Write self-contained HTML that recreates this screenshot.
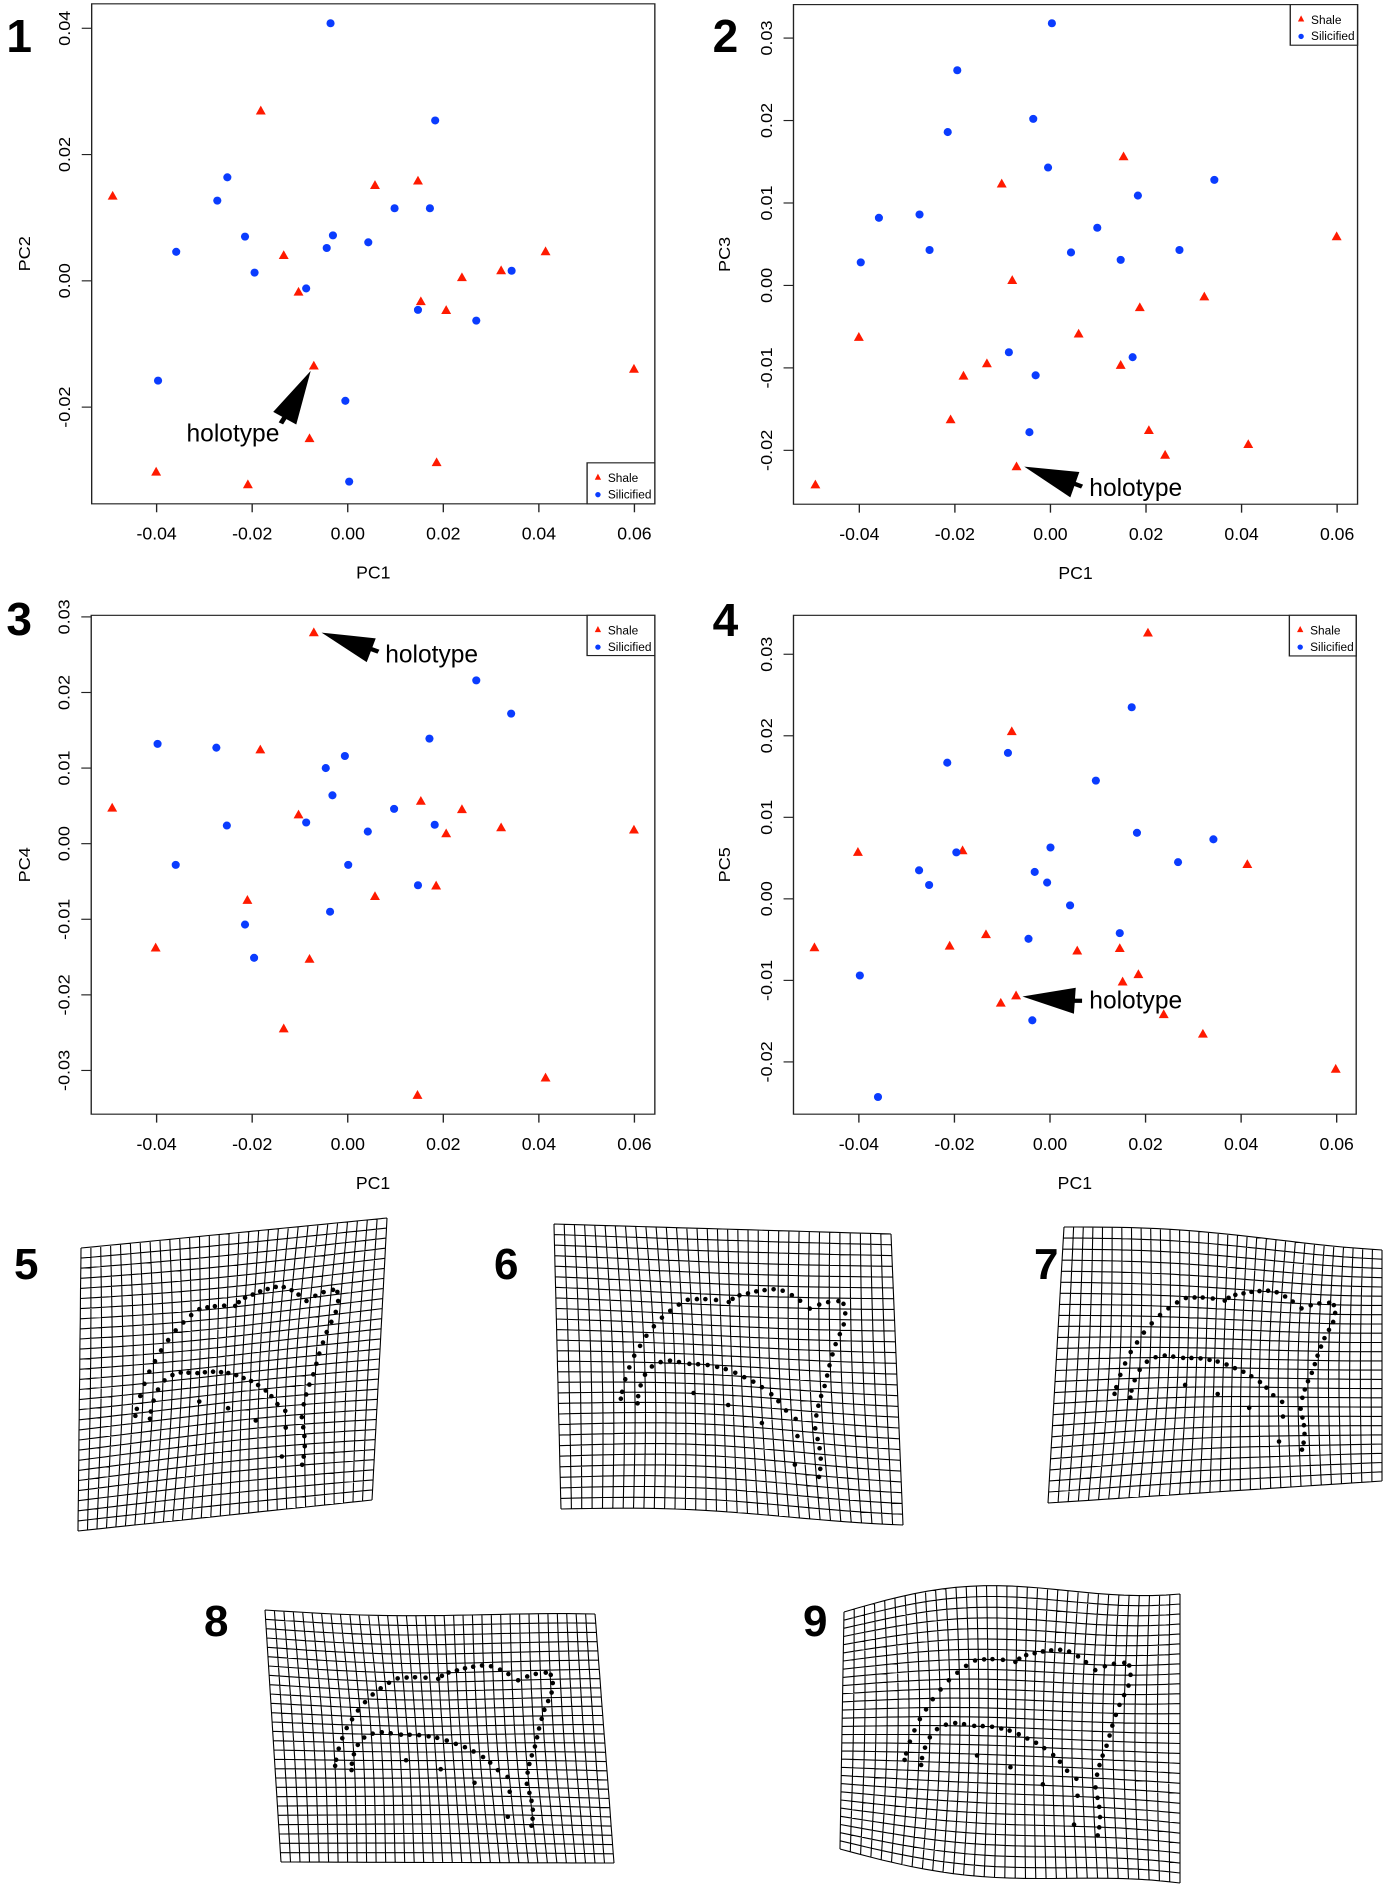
<!DOCTYPE html>
<html><head><meta charset="utf-8">
<style>
html,body{margin:0;padding:0;background:#fff;}
#root{position:relative;width:1400px;height:1897px;overflow:hidden;background:#fff;font-family:"Liberation Sans",Arial,sans-serif;}
svg{position:absolute;}
.num{position:absolute;font-weight:bold;font-size:44px;line-height:1;color:#000;font-family:"Liberation Sans",Arial,sans-serif;}
</style></head>
<body>
<div id="root">
<svg id="p1" style="left:0;top:0" width="700" height="600" viewBox="0 0 1550 1566" preserveAspectRatio="none"></svg>
<svg id="p2" style="left:700px;top:0" width="700" height="600" viewBox="0 0 1550 1566" preserveAspectRatio="none"></svg>
<svg id="p3" style="left:0;top:600px" width="700" height="600" viewBox="0 0 1550 1566" preserveAspectRatio="none"></svg>
<svg id="p4" style="left:700px;top:600px" width="700" height="600" viewBox="0 0 1550 1566" preserveAspectRatio="none"></svg>
<svg id="grids" style="left:0;top:0" width="1400" height="1897" viewBox="0 0 1400 1897"></svg>
<div class="num" style="left:14px;top:1243px">5</div>
<div class="num" style="left:494px;top:1243px">6</div>
<div class="num" style="left:1034px;top:1243px">7</div>
<div class="num" style="left:204px;top:1600px">8</div>
<div class="num" style="left:803px;top:1600px">9</div>
</div>
<script>
// ---- Panel 1: PC1 vs PC2
const p1ShaleX=[-0.0492,-0.0182,-0.0134,-0.0103,-0.0071,-0.0080,-0.0401,-0.0209,0.0057,0.0147,0.0153,0.0206,0.0239,0.0321,0.0414,0.0186,0.0599];
const p1ShaleY=[0.0134,0.0269,0.0040,-0.0018,-0.0135,-0.0250,-0.0303,-0.0323,0.0151,0.0158,-0.0033,-0.0047,0.0005,0.0016,0.0046,-0.0288,-0.0140];
const p1SilX=[-0.0036,0.0183,-0.0252,-0.0273,-0.0359,-0.0215,-0.0195,-0.0087,-0.0044,-0.0031,0.0043,0.0098,0.0172,0.0147,0.0269,0.0343,-0.0397,-0.0005,0.0003];
const p1SilY=[0.0408,0.0254,0.0164,0.0127,0.0046,0.0070,0.0013,-0.0012,0.0052,0.0072,0.0061,0.0115,0.0115,-0.0046,-0.0063,0.0016,-0.0158,-0.0190,-0.0318];
const p1YTicks=[-0.02,0.00,0.02,0.04];
// ---- Panel 2: PC1 vs PC3
const p2ShaleX=[-0.0492,-0.0401,-0.0209,-0.0182,-0.0133,-0.0102,-0.0080,-0.0071,0.0059,0.0147,0.0153,0.0187,0.0206,0.0240,0.0322,0.0414,0.0599];
const p2ShaleY=[-0.0242,-0.0063,-0.0163,-0.0110,-0.0095,0.0123,0.0006,-0.0220,-0.0059,-0.0097,0.0156,-0.0027,-0.0176,-0.0206,-0.0014,-0.0193,0.0059];
const p2SilX=[0.0003,-0.0195,-0.0036,-0.0215,-0.0005,0.0343,0.0183,-0.0359,-0.0274,-0.0253,-0.0397,0.0098,0.0043,0.0147,0.0270,-0.0087,0.0172,-0.0031,-0.0044];
const p2SilY=[0.0318,0.0261,0.0202,0.0186,0.0143,0.0128,0.0109,0.0082,0.0086,0.0043,0.0028,0.0070,0.0040,0.0031,0.0043,-0.0081,-0.0087,-0.0109,-0.0178];
const p2YTicks=[-0.02,-0.01,0.00,0.01,0.02,0.03];
// ---- Panel 3: PC1 vs PC4
const p3ShaleX=[-0.0493,-0.0402,-0.0210,-0.0183,-0.0134,-0.0103,-0.0080,-0.0071,0.0057,0.0146,0.0153,0.0185,0.0206,0.0239,0.0321,0.0414,0.0599];
const p3ShaleY=[0.0047,-0.0138,-0.0075,0.0124,-0.0245,0.0038,-0.0153,0.0279,-0.0070,-0.0333,0.0056,-0.0056,0.0013,0.0045,0.0021,-0.0310,0.0018];
const p3SilX=[-0.0398,-0.0275,-0.0253,-0.0360,-0.0215,-0.0196,-0.0087,-0.0046,-0.0032,-0.0006,0.0001,-0.0037,0.0042,0.0097,0.0171,0.0182,0.0147,0.0269,0.0342];
const p3SilY=[0.0132,0.0127,0.0024,-0.0028,-0.0107,-0.0151,0.0028,0.0100,0.0064,0.0116,-0.0028,-0.0090,0.0016,0.0046,0.0139,0.0025,-0.0055,0.0216,0.0172];
const p3YTicks=[-0.03,-0.02,-0.01,0.00,0.01,0.02,0.03];
// ---- Panel 4: PC1 vs PC5
const p4ShaleX=[-0.0493,-0.0402,-0.0210,-0.0183,-0.0134,-0.0103,-0.0080,-0.0071,0.0057,0.0146,0.0152,0.0185,0.0205,0.0238,0.0320,0.0413,0.0598];
const p4ShaleY=[-0.0060,0.0057,-0.0058,0.0059,-0.0044,-0.0128,0.0205,-0.0119,-0.0064,-0.0061,-0.0102,-0.0093,0.0326,-0.0142,-0.0166,0.0042,-0.0209];
const p4SilX=[-0.0215,-0.0088,0.0171,0.0096,0.0182,0.0342,0.0268,0.0001,-0.0032,-0.0006,0.0042,-0.0196,-0.0274,-0.0253,-0.0045,0.0146,-0.0398,-0.0037,-0.0360];
const p4SilY=[0.0167,0.0179,0.0235,0.0145,0.0081,0.0073,0.0045,0.0063,0.0033,0.0020,-0.0008,0.0057,0.0035,0.0017,-0.0049,-0.0042,-0.0094,-0.0149,-0.0243];
const p4YTicks=[-0.02,-0.01,0.00,0.01,0.02,0.03];
const xTicks=[-0.04,-0.02,0.00,0.02,0.04,0.06];
const xTickLabels=["-0.04","-0.02","0.00","0.02","0.04","0.06"];

const NS="http://www.w3.org/2000/svg";
function mk(parent,tag,attrs){const e=document.createElementNS(NS,tag);for(const k in attrs)e.setAttribute(k,attrs[k]);parent.appendChild(e);return e;}
// horizontal text corrected for the non-uniform viewBox scale
function htext(parent,x,y,size,anchor,extra){
  const a={x:0,y:0,'font-size':size,'text-anchor':anchor,fill:'#000',transform:`translate(${x},${y}) scale(0.85,1)`};
  for(const k in (extra||{}))a[k]=extra[k];
  return mk(parent,'text',a);
}

function plot(id,cfg,sx,sy,cx,cy,yTicks,yLab){
  const s=document.getElementById(id);
  const X=v=>cfg.x0+v/0.01*105.8;
  const Y=v=>cfg.y0-v/0.01*cfg.ys;
  const b=cfg.box;
  const box=mk(s,'rect',{x:b[0],y:b[1],width:b[2]-b[0],height:b[3]-b[1],fill:'none',stroke:'#222','stroke-width':3});
  
  
  xTicks.forEach((t,i)=>{
    const l=mk(s,'line',{x1:X(t),x2:X(t),y1:b[3],y2:b[3]+22,stroke:'#222','stroke-width':3});
    
    
    const tx=htext(s,X(t),b[3]+93,46,'middle');
    
    
    tx.textContent=xTickLabels[i];
  });
  yTicks.forEach(t=>{
    const l=mk(s,'line',{x1:b[0]-22,x2:b[0],y1:Y(t),y2:Y(t),stroke:'#222','stroke-width':3});
    
    
    const tx=mk(s,'text',{x:0,y:0,'font-size':40,'text-anchor':'middle',fill:'#000',transform:`translate(${b[0]-48},${Y(t)}) rotate(-90) scale(1.18,0.85)`});
    
    
    tx.textContent=t.toFixed(2);
  });
  const xt=htext(s,(b[0]+b[2])/2,b[3]+195,46,'middle');
  
  
  xt.textContent='PC1';
  const yt=mk(s,'text',{x:0,y:0,'font-size':40,'text-anchor':'middle',fill:'#000',transform:`translate(66,${(b[1]+b[3])/2}) rotate(-90) scale(1.18,0.85)`});
  
  
  yt.textContent=yLab;
  sx.forEach((v,i)=>{
    const x=X(v),y=Y(sy[i]);
    const p=mk(s,'polygon',{points:`${x},${y-14} ${x-11},${y+9} ${x+11},${y+9}`,fill:'#ff1a00'});
    
    
  });
  cx.forEach((v,i)=>{
    const c=mk(s,'ellipse',{cx:X(v),cy:Y(cy[i]),rx:9,ry:10.5,fill:'#0a3cff'});
    
    
  });
  const L=cfg.leg;
  const g=mk(s,'g',{});
  
  
  mk(g,'rect',{x:L[0],y:L[1],width:L[2]-L[0],height:L[3]-L[1],fill:'#fff',stroke:'#222','stroke-width':3});
  mk(g,'polygon',{points:`${L[0]+24},${L[1]+28} ${L[0]+17},${L[1]+44} ${L[0]+31},${L[1]+44}`,fill:'#ff1a00'});
  const t1=htext(g,L[0]+46,L[1]+50,31,'start');t1.textContent='Shale';
  mk(g,'ellipse',{cx:L[0]+24,cy:L[1]+83,rx:6,ry:7,fill:'#0a3cff'});
  const t2=htext(g,L[0]+46,L[1]+93,31,'start');t2.textContent='Silicified';
  const A=cfg.arrow;
  const ag=mk(s,'g',{});
  
  
  mk(ag,'polygon',{points:A.head,fill:'#000'});
  mk(ag,'line',{x1:A.shaft[0],y1:A.shaft[1],x2:A.shaft[2],y2:A.shaft[3],stroke:'#000','stroke-width':11});
  const ht=htext(ag,A.tx,A.ty,64,'start');ht.textContent='holotype';
  const n=htext(s,cfg.num[0],cfg.num[1],120,'start',{'font-weight':'bold'});
  
  
  n.textContent=cfg.num[2];
}

plot('p1',{x0:770,y0:733,ys:164.8,box:[203,10,1450,1315],leg:[1300,1208,1450,1315],
  arrow:{head:'688,968 656,1108 605,1075',shaft:[630,1090,622,1105],tx:413,ty:1152},num:[14,136,'1']},
  p1ShaleX,p1ShaleY,p1SilX,p1SilY,p1YTicks,'PC2');
plot('p2',{x0:776,y0:745,ys:215.2,box:[207,12,1456,1316],leg:[1307,12,1456,118],
  arrow:{head:'718,1218 840,1232 820,1298',shaft:[828,1262,846,1270],tx:862,ty:1295},num:[28,136,'2']},
  p2ShaleX,p2ShaleY,p2SilX,p2SilY,p2YTicks,'PC3');
plot('p3',{x0:770,y0:636,ys:197.3,box:[202,40,1450,1342],leg:[1300,40,1450,145],
  arrow:{head:'712,85 832,100 812,162',shaft:[822,128,838,135],tx:853,ty:163},num:[14,92,'3']},
  p3ShaleX,p3ShaleY,p3SilX,p3SilY,p3YTicks,'PC4');
plot('p4',{x0:775,y0:780,ys:212.8,box:[207,40,1453,1342],leg:[1305,40,1453,146],
  arrow:{head:'714,1035 832,1012 828,1080',shaft:[828,1046,846,1046],tx:862,ty:1066},num:[28,94,'4']},
  p4ShaleX,p4ShaleY,p4SilX,p4SilY,p4YTicks,'PC5');

// ---- Deformation grids
const lmZoom=[[567,350],[597,336],[627,333],[655,332],[690,333],[732,337],[745,328],[768,318],[796,312],[823,306],[850,302],[879,299],[908,302],[937,313],[963,327],[993,347],[1022,336],[1049,329],[1080,326],[1095,333],[1100,358],[1095,387],[1083,413],[1070,440],[1060,468],[1050,498],[1042,526],[1033,555],[1021,583],[1011,610],[1003,637],[997,672],[1002,700],[1006,724],[1007,751],[1003,778],[997,799],[925,773],[940,697],[938,651],[909,630],[886,606],[864,588],[834,570],[806,556],[776,545],[746,534],[714,525],[685,520],[653,516],[621,515],[592,515],[558,511],[529,508],[499,513],[471,526],[449,550],[435,580],[427,610],[425,630],[375,617],[379,598],[389,563],[402,530],[418,497],[437,469],[458,440],[483,413],[510,388],[538,368],[603,598],[718,627],[828,670]];
const G=document.getElementById('grids');
function grid(name,c,nc,nr,amp,topWave,botWave){
  const g=mk(G,'g',{});
  
  
  const P=(u,v)=>{
    const x=(1-u)*(1-v)*c[0][0]+u*(1-v)*c[1][0]+u*v*c[2][0]+(1-u)*v*c[3][0];
    let y=(1-u)*(1-v)*c[0][1]+u*(1-v)*c[1][1]+u*v*c[2][1]+(1-u)*v*c[3][1];
    y+= (1-v)*topWave*Math.sin(Math.PI*u*1.5)+v*botWave*Math.sin(Math.PI*u*1.5);
    const dx=amp*Math.sin(Math.PI*v)*Math.sin(2*Math.PI*u);
    const dy=amp*0.6*Math.sin(Math.PI*u)*Math.sin(2*Math.PI*v);
    return [x+dx,y+dy];
  };
  let d='';
  for(let i=0;i<=nc;i++){const u=i/nc;for(let k=0;k<=20;k++){const p=P(u,k/20);d+=(k?'L':'M')+p[0].toFixed(1)+','+p[1].toFixed(1);}}
  for(let j=0;j<=nr;j++){const v=j/nr;for(let k=0;k<=24;k++){const p=P(k/24,v);d+=(k?'L':'M')+p[0].toFixed(1)+','+p[1].toFixed(1);}}
  mk(g,'path',{d:d,fill:'none',stroke:'#000','stroke-width':1.1});
  lmZoom.forEach(q=>{
    const p=P((q[0]-195)/1048,(q[1]-150)/758);
    mk(g,'circle',{cx:p[0],cy:p[1],r:2.3,fill:'#000'});
  });
}
grid('grid-5',[[81,1248],[387,1218],[372,1500],[78,1531]],31,28,6,0,0);
grid('grid-6',[[554,1224],[891,1234],[903,1521],[561,1509]],33,27,5,0,-4);
grid('grid-7',[[1064,1227],[1382,1246],[1382,1481],[1048,1503]],33,25,5,-4,0);
grid('grid-8',[[265,1610],[595,1617],[614,1863],[281,1862]],35,27,4,3,0);
grid('grid-9',[[844,1612],[1180,1580],[1180,1893],[840,1849]],33,29,6,-14,10);
</script>
</body></html>
